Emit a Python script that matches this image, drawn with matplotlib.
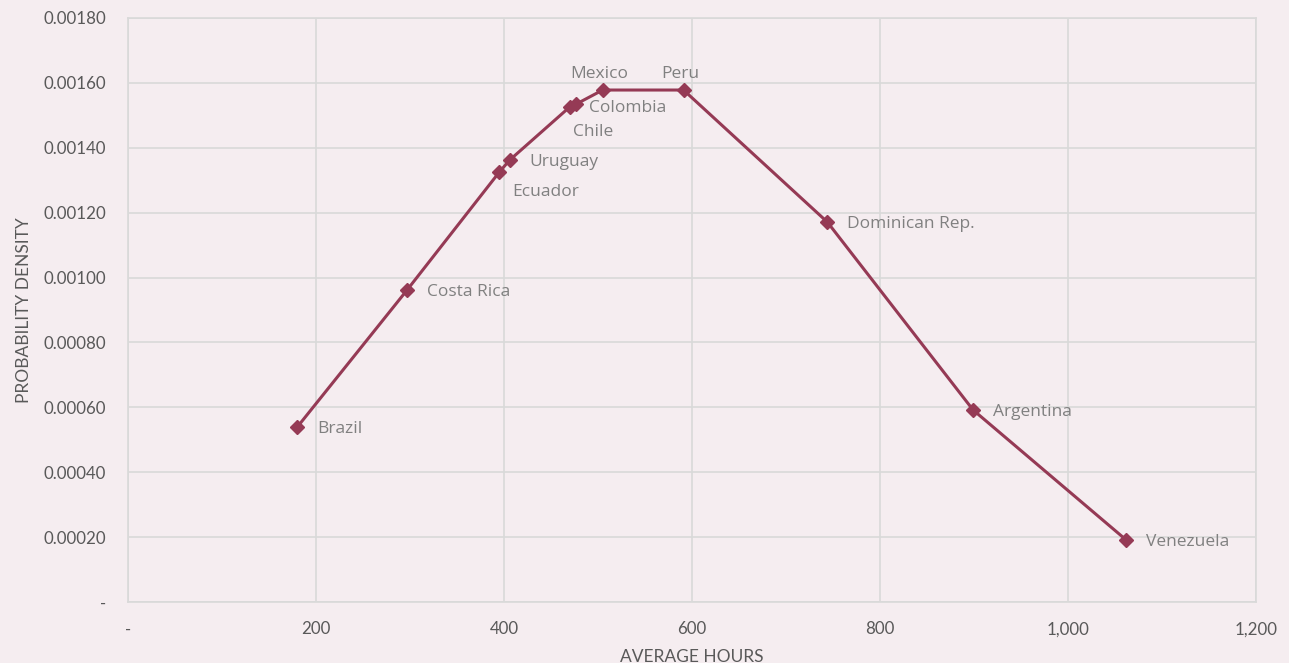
import matplotlib
matplotlib.use("Agg")
import matplotlib.pyplot as plt
from matplotlib.ticker import FuncFormatter, MultipleLocator

countries = ["Brazil", "Costa Rica", "Ecuador", "Uruguay", "Chile", "Colombia",
             "Mexico", "Peru", "Dominican Rep.", "Argentina", "Venezuela"]
hours = [180, 297, 395, 406, 470, 477, 505, 591, 744, 899, 1062]
density = [0.000539, 0.000962, 0.001325, 0.001362, 0.001526, 0.001535,
           0.001578, 0.001578, 0.001171, 0.000592, 0.000191]
# label offsets in pixels (dx, dy) and horizontal alignment
label_offsets = {"Ecuador": (13, -20, "left"), "Chile": (3, -25, "left"),
                 "Colombia": (13, -4, "left"), "Mexico": (-3, 16, "center"),
                 "Peru": (-3, 16, "center")}

bg = "#F5EDF0"
line_c = "#953A55"
plt.rcParams["font.family"] = ["Lato", "DejaVu Sans"]

fig = plt.figure(figsize=(12.89, 6.63), dpi=100, facecolor=bg)
ax = fig.add_axes([128/1289, 61/663, 1128/1289, 584/663], facecolor=bg)

ax.plot(hours, density, color=line_c, lw=2.2, marker="D", ms=7, zorder=3)
for c, x, y in zip(countries, hours, density):
    dx, dy, ha = label_offsets.get(c, (20, -2, "left"))
    ax.annotate(c, (x, y), xytext=(dx, dy), textcoords="offset pixels",
                ha=ha, va="center", fontsize=12.5, color="#808080",
                family=["Open Sans", "DejaVu Sans"])

ax.set_xlim(0, 1200)
ax.set_ylim(0, 0.0018)
ax.xaxis.set_major_locator(MultipleLocator(200))
ax.yaxis.set_major_locator(MultipleLocator(0.0002))
ax.xaxis.set_major_formatter(FuncFormatter(lambda v, p: "-" if abs(v) < 1e-9 else f"{v:,.0f}"))
ax.yaxis.set_major_formatter(FuncFormatter(lambda v, p: "-" if abs(v) < 1e-12 else f"{v:.5f}"))
ax.grid(True, color="#D9D9D9", lw=1.2)
ax.set_axisbelow(True)
for s in ax.spines.values():
    s.set_color("#D9D9D9")
    s.set_linewidth(1.2)
ax.tick_params(length=0, labelsize=12.2, labelcolor="#595959", pad=14)
ax.tick_params(axis="y", pad=16)
ax.set_xlabel("AVERAGE HOURS", fontsize=12.5, color="#595959", labelpad=8)
ax.set_ylabel("PROBABILITY DENSITY", fontsize=12.5, color="#595959", labelpad=8)

fig.savefig("out.png", dpi=100, facecolor=bg)
